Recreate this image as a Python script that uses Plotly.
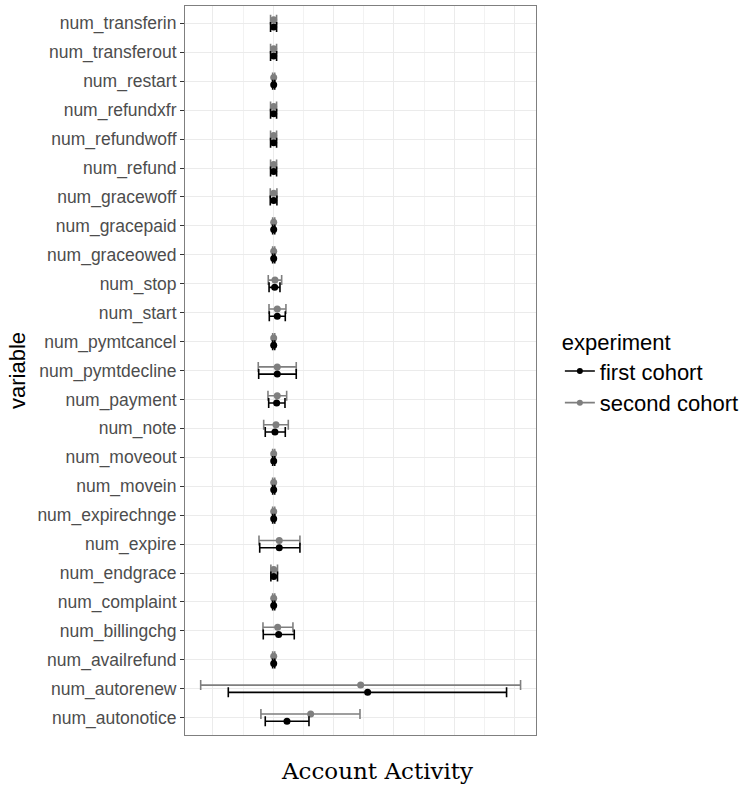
import plotly.graph_objects as go

# categories from top to bottom
categories = ["num_transferin", "num_transferout", "num_restart", "num_refundxfr",
              "num_refundwoff", "num_refund", "num_gracewoff", "num_gracepaid",
              "num_graceowed", "num_stop", "num_start", "num_pymtcancel",
              "num_pymtdecline", "num_payment", "num_note", "num_moveout",
              "num_movein", "num_expirechnge", "num_expire", "num_endgrace",
              "num_complaint", "num_billingchg", "num_availrefund", "num_autorenew",
              "num_autonotice"]

# first cohort: estimate, lower, upper
first_est = [0.007, 0.007, 0.007, 0.007, 0.007, 0.007, 0.007, 0.007, 0.007, 0.023,
             0.066, 0.007, 0.066, 0.056, 0.028, 0.007, 0.007, 0.007, 0.099, 0.007,
             0.007, 0.089, 0.007, 1.565, 0.227]
first_lo = [-0.045, -0.045, -0.010, -0.045, -0.045, -0.045, -0.050, -0.010, -0.010, -0.070,
            -0.066, -0.010, -0.242, -0.076, -0.133, -0.010, -0.010, -0.010, -0.225, -0.040,
            -0.010, -0.166, -0.010, -0.746, -0.133]
first_hi = [0.055, 0.055, 0.024, 0.055, 0.055, 0.055, 0.060, 0.024, 0.024, 0.111,
            0.199, 0.024, 0.381, 0.194, 0.199, 0.024, 0.024, 0.024, 0.442, 0.070,
            0.024, 0.348, 0.024, 3.869, 0.592]

second_est = [0.007, 0.007, 0.007, 0.007, 0.007, 0.007, 0.007, 0.007, 0.007, 0.028,
              0.066, 0.007, 0.066, 0.066, 0.045, 0.007, 0.007, 0.007, 0.099, 0.007,
              0.007, 0.073, 0.007, 1.449, 0.620]
second_lo = [-0.045, -0.045, -0.010, -0.045, -0.045, -0.045, -0.050, -0.010, -0.010, -0.083,
             -0.071, -0.010, -0.249, -0.088, -0.159, -0.010, -0.010, -0.010, -0.237, -0.040,
             -0.010, -0.171, -0.010, -1.204, -0.205]
second_hi = [0.055, 0.055, 0.024, 0.055, 0.055, 0.055, 0.060, 0.024, 0.024, 0.139,
             0.210, 0.024, 0.381, 0.222, 0.249, 0.024, 0.024, 0.024, 0.442, 0.070,
             0.024, 0.326, 0.024, 4.101, 1.438]

series = [
    ("first cohort", first_est, first_lo, first_hi, "#000000", -0.125),
    ("second cohort", second_est, second_lo, second_hi, "#7f7f7f", 0.125),
]

n = len(categories)
ypos = [n - 1 - i for i in range(n)]

fig = go.Figure()
for name, est, lo, hi, col, off in reversed(series):
    fig.add_trace(go.Scatter(
        x=est, y=[p + off for p in ypos], mode="markers",
        marker=dict(color=col, size=7),
        error_x=dict(type="data", symmetric=False,
                     array=[h - e for h, e in zip(hi, est)],
                     arrayminus=[e - l for e, l in zip(est, lo)],
                     color=col, thickness=1.6, width=5),
        showlegend=False, hoverinfo="skip"))

for name, est, lo, hi, col, off in series:
    fig.add_trace(go.Scatter(
        x=[None], y=[None], mode="lines+markers", name=name,
        line=dict(color=col, width=1.6), marker=dict(color=col, size=6)))

fig.update_layout(
    width=745, height=795,
    margin=dict(l=185, r=209, t=6, b=60, autoexpand=False),
    plot_bgcolor="white", paper_bgcolor="white",
    font=dict(family="Liberation Sans, Arial, sans-serif", color="#000000"),
    legend=dict(title=dict(text="experiment", font=dict(size=22, color="#000000")),
                font=dict(size=22, color="#000000"),
                x=1.068, y=0.567, xanchor="left", yanchor="top",
                tracegroupgap=0, itemwidth=30, bgcolor="rgba(0,0,0,0)"),
    annotations=[dict(text="Account Activity", xref="paper", yref="paper",
                      x=0.547, y=-0.05, xanchor="center", yanchor="middle",
                      showarrow=False,
                      font=dict(family="DejaVu Serif, serif", size=23, color="#000000"))],
)
fig.update_xaxes(
    range=[-1.464, 4.357], showticklabels=False, ticks="",
    showgrid=True, gridcolor="#ebebeb", gridwidth=1.2, dtick=1, tick0=0,
    minor=dict(dtick=0.5, showgrid=True, gridcolor="#f2f2f2", gridwidth=0.6),
    zeroline=False, showline=True, linecolor="#7f7f7f", linewidth=1, mirror=True)
fig.update_yaxes(
    range=[-0.6, n - 0.4], tickmode="array", tickvals=ypos, ticktext=categories,
    ticks="outside", ticklen=4, tickcolor="#333333",
    tickfont=dict(size=17.5, color="#4d4d4d"),
    showgrid=True, gridcolor="#ebebeb", gridwidth=1.2,
    zeroline=False, showline=True, linecolor="#7f7f7f", linewidth=1, mirror=True,
    title=dict(text="variable", standoff=5, font=dict(size=22, color="#000000")))

fig.write_html("out.html", config={"displayModeBar": False},
               post_script="document.body.style.margin='0';")
